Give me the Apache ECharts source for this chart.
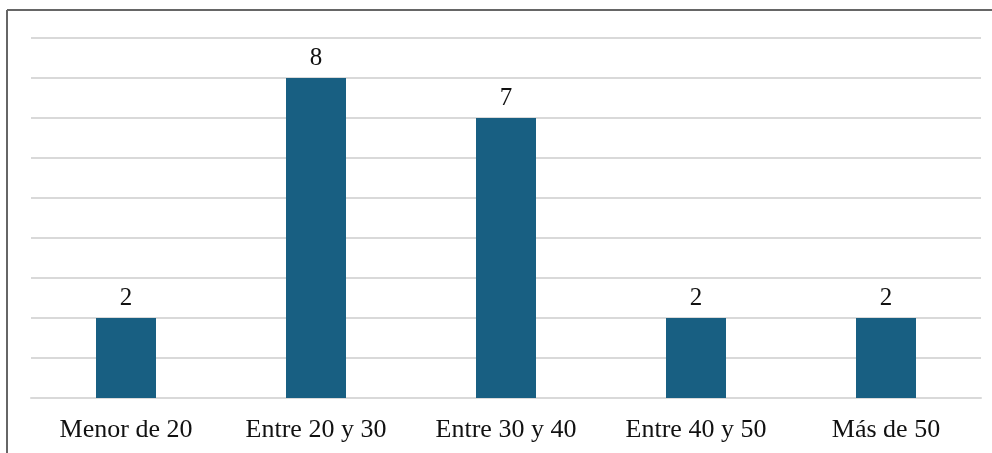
<!DOCTYPE html>
<html>
<head>
<meta charset="utf-8">
<script src="https://cdn.jsdelivr.net/npm/echarts@6/dist/echarts.min.js"></script>
<style>
  html, body { margin: 0; padding: 0; background: #fff; }
  #chart { width: 992px; height: 453px; }
</style>
</head>
<body>
<div id="chart"></div>
<script>
var categories = ['Menor de 20', 'Entre 20 y 30', 'Entre 30 y 40', 'Entre 40 y 50', 'Más de 50'];
var counts = [2, 8, 7, 2, 2];

var myChart = echarts.init(document.getElementById('chart'));
var option = {
    backgroundColor: '#fff',
    animation: false,
    textStyle: { fontFamily: 'Liberation Serif' },
    graphic: [
        { type: 'line', shape: { x1: 7, y1: 10, x2: 992, y2: 10 }, style: { stroke: '#666', lineWidth: 2 } },
        { type: 'line', shape: { x1: 7, y1: 10, x2: 7, y2: 453 }, style: { stroke: '#666', lineWidth: 2 } }
    ],
    grid: {
        left: 31,
        right: 11,
        top: 38,
        bottom: 55
    },
    xAxis: {
        type: 'category',
        data: categories,
        axisTick: { show: false },
        axisLine: { lineStyle: { color: '#d9d9d9', width: 2 } },
        axisLabel: {
            color: '#111',
            fontSize: 26,
            fontFamily: 'Liberation Serif',
            margin: 19
        }
    },
    yAxis: {
        type: 'value',
        min: 0,
        max: 9,
        interval: 1,
        axisLabel: { show: false },
        axisLine: { show: false },
        axisTick: { show: false },
        splitLine: { lineStyle: { color: '#d9d9d9', width: 2 } }
    },
    series: [{
        type: 'bar',
        data: counts,
        barWidth: 60,
        itemStyle: { color: '#185f82' },
        label: {
            show: true,
            position: 'top',
            distance: 7,
            color: '#111',
            fontSize: 25,
            fontFamily: 'Liberation Serif'
        }
    }]
};
myChart.setOption(option);
</script>
</body>
</html>
